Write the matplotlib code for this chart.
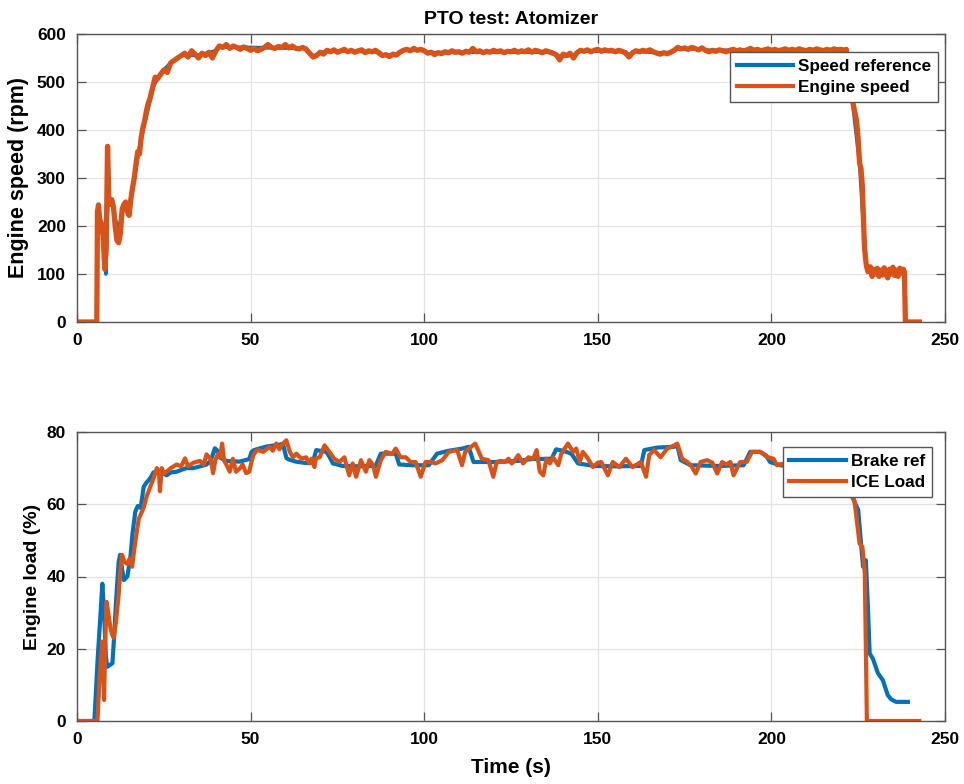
import matplotlib
matplotlib.use("Agg")
import matplotlib.pyplot as plt

plt.rcParams['font.family'] = ['Liberation Sans', 'DejaVu Sans']
plt.rcParams['font.weight'] = 'bold'

BLUE = '#0072BD'
ORANGE = '#D95319'

# ---- Engine speed (rpm) ----
speed_t = [0, 5.7, 5.9, 6.2, 6.5, 7.0, 7.5, 8.0, 8.4, 8.8, 9.2, 9.6, 10.0, 10.5, 11.0, 11.5,
           12.0, 12.5, 13.0, 13.5, 14.0, 14.5, 15.0, 15.5, 16.0, 16.5, 17.0, 17.5, 18.0, 18.5,
           19.0, 19.5, 20.0, 20.5, 21.0, 21.5, 22.0, 22.5, 23.0] + list(range(24, 222)) + \
          [221.6, 222.2, 222.8, 223.5, 224.5, 225.0, 225.4, 225.8, 226.2, 226.8, 227.3, 227.8,
           228.5, 229, 229.5, 230, 230.5, 231, 231.5, 232, 232.5, 233, 233.5, 234, 234.5, 235,
           235.5, 236, 236.5, 237, 237.5, 238, 238.3, 238.6, 242.6]
engine_speed = [0, 0, 230, 244, 215, 205, 180, 110, 150, 366, 250, 245, 255, 240, 200, 170,
                165, 185, 235, 245, 250, 230, 222, 255, 280, 300, 330, 355, 350, 385,
                405, 420, 440, 455, 465, 480, 495, 510, 505,
                # 24 .. 221 s
                515, 525, 520, 540, 545, 550, 555, 560, 552, 565, 558, 550, 560, 555, 562, 550,
                565, 575, 572, 578, 570, 575, 572, 568, 573, 570, 566, 570, 565, 568, 572, 578,
                572, 570, 574, 572, 578, 571, 575, 570, 569, 572, 568, 560, 552, 555, 562, 558,
                566, 563, 567, 562, 565, 568, 563, 566, 562, 565, 567, 561, 565, 563, 566, 560,
                555, 557, 553, 558, 556, 562, 566, 568, 565, 570, 566, 568, 565, 560, 562, 557,
                561, 559, 563, 561, 565, 562, 563, 560, 564, 562, 570, 563, 565, 561, 564, 562,
                566, 563, 565, 561, 564, 563, 566, 562, 565, 563, 567, 562, 566, 564, 561, 565,
                563, 560, 557, 546, 558, 555, 560, 550, 561, 566, 564, 567, 563, 566, 568, 564,
                567, 565, 566, 563, 566, 564, 560, 552, 561, 565, 563, 566, 564, 567, 563, 560,
                558, 561, 559, 562, 566, 572, 569, 571, 568, 572, 570, 567, 571, 566, 563, 566,
                564, 567, 565, 563, 566, 568, 565, 567, 564, 567, 570, 566, 568, 565, 567, 569,
                566, 568, 565, 567, 569, 566, 568, 566, 569, 567, 565, 568, 566, 569, 567, 565,
                568, 566, 569, 567, 568, 566,
                # shutdown
                568, 530, 490, 456, 420, 380, 331, 320, 282, 156, 120, 105,
                115, 95, 110, 100, 112, 95, 108, 98, 113, 100, 92, 110, 100, 114,
                97, 108, 95, 112, 102, 110, 105, 0, 0]

ref_t = [0, 5.7, 5.9, 6.5, 7.2, 7.8, 8.3, 8.6, 9.0, 10, 11, 12, 13, 14, 15, 16, 17, 18, 19,
         20, 21, 22, 23, 25, 27, 30, 35, 40, 41, 66, 67, 68, 70, 72, 87, 88, 92, 94, 100, 101,
         113, 137, 139, 143, 145, 158, 159, 161, 167, 171, 173, 180, 182, 221.6, 223.5,
         225.4, 226.5, 227.3, 230, 238.3, 238.6, 242.6]
speed_ref = [0, 0, 220, 215, 200, 150, 100, 200, 260, 250, 215, 190, 230, 250, 240, 275, 320,
             365, 400, 430, 460, 490, 505, 525, 540, 555, 556, 565, 573, 570, 560, 554, 560,
             565, 563, 556, 557, 566, 566, 561, 562, 562, 553, 556, 565, 563, 556, 564, 561,
             561, 569, 569, 566, 567, 450, 330, 200, 115, 105, 105, 0, 0]

# ---- Engine load (%) ----
brake_t = [0, 5.0, 6.0, 6.8, 7.3, 7.8, 8.3, 8.7, 9.5, 10.2, 10.6, 11.3, 12.0, 12.4, 13.0, 13.5,
           14.0, 14.5, 15.0, 15.4, 16.0, 16.8, 17.5, 18.3, 18.8, 19.2, 20.0, 20.6, 21.3, 22.0,
           23.0, 23.9, 25.0, 25.8, 27, 28.7, 30, 31.5, 33.5, 35.5, 37.3, 38.5, 39.2, 39.7, 40.3,
           41.1, 43, 46.8, 49.6, 50.3, 51.0, 54.6, 57, 58.4, 59.3, 60.3, 61, 63, 66, 67.9, 68.9,
           71.8, 72.8, 73.7, 76.5, 80, 86, 87.5, 91.8, 92.8, 96.6, 101.3, 103.7, 107, 110.9,
           112.8, 114.2, 120.4, 127, 131, 136.7, 138, 140, 142.4, 144.3, 149, 155, 162.4, 163.4,
           167.2, 172, 172.9, 173.9, 176.7, 185, 192, 193.9, 196.8, 198.5, 199.6, 202.5, 205,
           208, 212, 216, 219, 221, 222.5, 223.5, 225, 225.9, 226.4, 226.8, 227.2, 227.8, 228.3,
           229.2, 230.7, 232.1, 233.5, 234.5, 235.9, 239.3]
brake_ref = [0, 0, 18, 30, 38, 30, 18, 15, 15.5, 16, 22, 34, 44, 46, 42, 39,
             39.5, 40, 43, 45.5, 52, 58, 59.5, 59, 62, 64.8, 66, 66.6, 67.5, 68.8,
             69, 69.2, 68.5, 68, 68.8, 69, 69.5, 70, 70, 70.5, 71, 72, 74, 75.5, 75,
             73, 72, 71.8, 72.5, 74.5, 75, 76, 76.3, 76.5, 76.8, 72.8, 72.4, 71.8, 71.4, 71.5, 75,
             74.5, 73, 71.3, 70.6, 70.5, 70.6, 74, 74, 71, 70.8, 70.8, 74, 74.8, 75.4,
             75.9, 71.7, 71.7, 72.0, 72.5, 72.6, 75.2, 74.8, 74, 71.3, 70.6, 70.5, 70.6, 75,
             75.7, 75.9, 76.3, 72.2, 70.8, 70.6, 70.8, 74.5, 74.5, 73.5, 71.7, 70.8, 70.5,
             70.2, 70, 69.8, 69.5, 67, 63, 61.6, 58.4, 48.2, 42.7, 43.5, 44.5, 31.6, 18.7,
             17.3, 13.2, 11.3, 7.2, 6, 5.3, 5.3]

load_t = [0, 5.9, 6.5, 7.0, 7.3, 7.6, 7.8, 8.1, 8.5, 9.0, 9.6, 10.1, 10.6, 11.3, 12, 12.5, 13,
          13.7, 14.5, 15.2, 15.9, 16.3, 17, 17.8, 18.5, 19.2, 20, 21.1, 22, 23, 23.6, 23.9, 24.4,
          25.1, 25.8, 27, 28.7, 30, 31.1, 32, 33.5, 35.4, 36.5, 37.3, 38.5, 39.2, 39.8, 40.6,
          41.2, 41.8, 42.4, 43, 44, 44.9, 45.8, 46.9, 47.7, 48.7, 49.6, 50.2, 50.8, 51.6, 52.2,
          53.6, 55.5, 56.4, 57.4, 58.3, 58.9, 60.3, 61.3, 62.2, 63.2, 64.6, 66, 66.9, 67.5, 68.4,
          68.8, 69.9, 71.3, 72.7, 74.1, 75.6, 77, 78.4, 79.4, 80.4, 81.8, 83.2, 84.2, 85.2, 86.1,
          87.5, 88.9, 90.8, 91.8, 93.2, 94.7, 96.1, 97.5, 99, 100.4, 101.8, 103.3, 105.2, 107.1,
          108.5, 109.5, 110.9, 111.8, 113, 114.7, 116.6, 118.5, 119.9, 120.9, 122, 123.3, 124.3,
          125.2, 125.7, 127.1, 128.5, 130, 131.4, 132.4, 133.3, 134.3, 135.2, 136.2, 137.1, 138.6,
          139.5, 140.5, 141.4, 142.9, 143.8, 144.8, 145.7, 147.2, 148.6, 150, 151, 152.9, 154.3,
          156.2, 158.1, 160, 162.4, 163.9, 164.8, 166.2, 168.1, 170, 172, 172.9, 174.3, 175.8,
          177, 178.2, 179.6, 181.5, 183, 184.4, 185.8, 187, 188.2, 189.1, 191, 192.9, 194.4,
          196.8, 198.7, 200.6, 201.6, 203, 204, 205.5, 207, 208.5, 210, 211.5, 213, 214.5, 216,
          217.5, 219, 220.5, 222, 223.9, 225.4, 226.2, 226.9, 227.5, 242.6]
ice_load = [0, 0, 12, 18, 22, 12, 5.8, 20, 33, 30, 26, 24, 23, 28, 35, 42, 46,
            44, 43.5, 45, 42.7, 46, 51, 56, 57.5, 59, 62, 64.8, 67, 70, 69, 63.6, 70,
            68.5, 69, 70, 71, 70.5, 72.7, 70.5, 71.5, 72, 71, 73.8, 72.5, 68.6, 72, 74,
            73, 76.8, 72, 71, 69, 72.6, 69, 69.9, 71, 68.6, 69, 71.5, 73.6, 74.7, 75,
            74.5, 75.9, 74.8, 76.8, 75.2, 76.3, 77.7, 74.5, 73, 74, 72.6, 73, 71.3, 72.6, 70.3,
            72.7, 73, 76.3, 74.5, 72.6, 71.7, 73, 68, 71.3, 67.6, 72.2, 69, 72.2, 71, 67.6,
            72.2, 74.5, 74, 75.4, 73, 73, 71.7, 71.7, 67.6, 71.7, 71.7, 71.3, 72.2, 74.5,
            74.8, 75, 70.8, 74.5, 75.5, 76.8, 72.6, 72.2, 67.6, 71.7, 72, 71.7, 72.6,
            71.3, 71.7, 73.6, 71.3, 73, 72.6, 75, 69, 68, 72.6, 71.3, 73, 70.8,
            74, 75.5, 76.8, 74.5, 75.4, 71.7, 74.5, 72.6, 70.3, 71.5, 71.7, 68, 71.7,
            70.3, 72.6, 70.3, 71.7, 67.6, 73.6, 75, 73, 75.4, 76.3, 76.8, 72.6, 71.7,
            70.5, 68.5, 71.7, 72.2, 71.5, 68.5, 71.7, 71, 71.7, 68, 71.7, 71.7, 74.5,
            74.5, 73.1, 72.6, 70.8, 71.2, 70.5, 72, 70, 71.5, 70.2, 71, 69.5, 70.8, 70,
            70.5, 69.5, 68, 65, 61.1, 49.1, 48.2, 40.8, 0, 0]

x_ticks = [0, 50, 100, 150, 200, 250]
speed_ticks = [0, 100, 200, 300, 400, 500, 600]
load_ticks = [0, 20, 40, 60, 80]

W, H = 964, 784
fig = plt.figure(figsize=(W / 100, H / 100), dpi=100)
left, right = 77, 945
ax1 = fig.add_axes([left / W, 1 - 322 / H, (right - left) / W, (322 - 34) / H])
ax2 = fig.add_axes([left / W, 1 - 721 / H, (right - left) / W, (721 - 432) / H])


def style(ax):
    ax.set_xlim(0, 250)
    ax.set_xticks(x_ticks)
    ax.grid(True, color='#e3e3e3', lw=0.9)
    ax.set_axisbelow(True)
    for s in ax.spines.values():
        s.set_color('#555555')
        s.set_linewidth(1.0)
    ax.tick_params(direction='in', length=6.5, width=0.9, color='#555555',
                   top=True, right=True, labelsize=12.5, pad=8)
    for lab in ax.get_xticklabels() + ax.get_yticklabels():
        lab.set_fontweight('bold')


def legend(ax, anchor):
    leg = ax.legend(loc='upper right', bbox_to_anchor=anchor, fontsize=12.3,
                    handlelength=3.3, handletextpad=0.3, borderpad=0.4, labelspacing=0.35,
                    fancybox=False, framealpha=1, borderaxespad=0)
    leg.get_frame().set_edgecolor('#555555')
    leg.get_frame().set_linewidth(1.0)
    for line in leg.get_lines():
        line.set_linewidth(3)


ax1.plot(ref_t, speed_ref, color=BLUE, lw=2.6, label='Speed reference')
ax1.plot(speed_t, engine_speed, color=ORANGE, lw=3.8, label='Engine speed')
ax1.set_ylim(0, 600)
ax1.set_yticks(speed_ticks)
style(ax1)
ax1.set_ylabel('Engine speed (rpm)', fontsize=15.5, fontweight='bold', labelpad=6)
ax1.set_title('PTO test: Atomizer', fontsize=14, fontweight='bold', pad=7)
legend(ax1, (0.992, 0.9375))

ax2.plot(brake_t, brake_ref, color=BLUE, lw=3.0, label='Brake ref')
ax2.plot(load_t, ice_load, color=ORANGE, lw=3.0, label='ICE Load')
ax2.set_ylim(0, 80)
ax2.set_yticks(load_ticks)
style(ax2)
ax2.set_ylabel('Engine load (%)', fontsize=14, fontweight='bold', labelpad=4)
ax2.set_xlabel('Time (s)', fontsize=15, fontweight='bold', labelpad=8)
legend(ax2, (0.985, 0.948))

fig.savefig('out.png', dpi=100)
